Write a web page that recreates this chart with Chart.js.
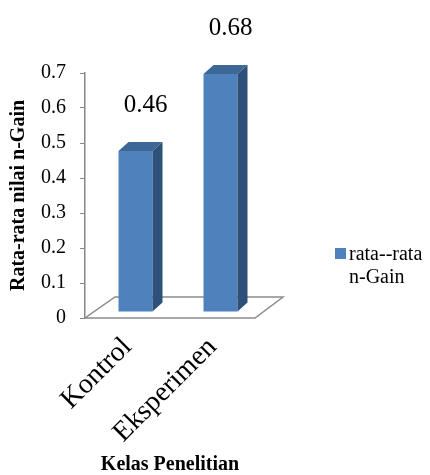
<!DOCTYPE html>
<html lang="id">
<head>
  <meta charset="UTF-8">
  <title>Rata-rata nilai n-Gain</title>
  <script src="https://cdn.jsdelivr.net/npm/chart.js"></script>
  <style>
    html, body { margin: 0; padding: 0; background: #fff; }
  </style>
</head>
<body>
  <canvas id="gainChart" width="430" height="475"></canvas>
  <script>
    // data
    const categories = ['Kontrol', 'Eksperimen'];
    const gainValues = [0.46, 0.68];
    const yTickLabels = ['0', '0.1', '0.2', '0.3', '0.4', '0.5', '0.6', '0.7'];
    const legendLines = ['rata--rata', 'n-Gain'];

    const serif = '"Liberation Serif", "Times New Roman", serif';
    const frontColor = '#4f81bd';
    const topColor = '#3d6796';
    const sideColor = '#2f5179';
    const depth = { x: 10, y: -9 };  // thickness of each bar
    const shift = { x: 8, y: -6 };   // bars stand a bit back on the floor

    function poly(ctx, pts, fill) {
      ctx.beginPath();
      ctx.moveTo(pts[0][0], pts[0][1]);
      for (let i = 1; i < pts.length; i++) ctx.lineTo(pts[i][0], pts[i][1]);
      ctx.closePath();
      ctx.fillStyle = fill;
      ctx.fill();
    }

    // floor + fake 3d faces for the bars
    const boxPlugin = {
      id: 'box3d',
      beforeDatasetsDraw(chart) {
        const { ctx, chartArea: a } = chart;
        ctx.save();
        ctx.beginPath();
        ctx.moveTo(a.left, a.bottom);
        ctx.lineTo(a.right, a.bottom);
        ctx.lineTo(a.right + 28, a.bottom - 21);
        ctx.lineTo(a.left + 30, a.bottom - 21);
        ctx.closePath();
        ctx.fillStyle = '#fff';
        ctx.fill();
        ctx.strokeStyle = '#8c8c8c';
        ctx.lineWidth = 1.5;
        ctx.stroke();
        ctx.restore();

        ctx.save();
        ctx.translate(shift.x, shift.y);
      },
      afterDatasetsDraw(chart) {
        const ctx = chart.ctx;
        chart.getDatasetMeta(0).data.forEach((bar, i) => {
          const l = bar.x - bar.width / 2;
          const r = bar.x + bar.width / 2;
          const t = bar.y;
          const b = bar.base;
          poly(ctx, [[l, t], [r, t], [r + depth.x, t + depth.y], [l + depth.x, t + depth.y]], topColor);
          poly(ctx, [[r, t], [r + depth.x, t + depth.y], [r + depth.x, b + depth.y], [r, b]], sideColor);

          ctx.fillStyle = '#000';
          ctx.font = '25px ' + serif;
          ctx.textAlign = 'center';
          ctx.textBaseline = 'middle';
          ctx.fillText(gainValues[i].toFixed(2), bar.x + 10, t - 46);
        });
        ctx.restore();
      },
      afterDraw(chart) {
        const { ctx, chartArea: a } = chart;
        const lx = a.right + 80;
        const ly = a.bottom - 70;
        ctx.save();
        ctx.fillStyle = frontColor;
        ctx.fillRect(lx, ly, 11, 11);
        ctx.fillStyle = '#000';
        ctx.font = '20px ' + serif;
        ctx.textAlign = 'left';
        ctx.textBaseline = 'alphabetic';
        legendLines.forEach((line, i) => ctx.fillText(line, lx + 14, ly + 12 + i * 23));
        ctx.restore();
      }
    };

    new Chart(document.getElementById('gainChart'), {
      type: 'bar',
      data: {
        labels: categories,
        datasets: [{
          label: legendLines.join(' '),
          data: gainValues,
          backgroundColor: frontColor,
          borderWidth: 0,
          barPercentage: 0.4,
          categoryPercentage: 1
        }]
      },
      options: {
        responsive: false,
        animation: false,
        layout: { padding: { top: 73, right: 175, left: 0, bottom: 0 } },
        plugins: {
          legend: { display: false },
          tooltip: { enabled: false }
        },
        scales: {
          x: {
            grid: { display: false, drawTicks: false },
            border: { display: false },
            ticks: {
              minRotation: 45,
              maxRotation: 45,
              padding: 13,
              color: '#000',
              font: { family: serif, size: 28 }
            },
            title: {
              display: true,
              text: 'Kelas Penelitian',
              color: '#000',
              font: { family: serif, size: 20, weight: 'bold', lineHeight: 1 },
              padding: { top: -1, bottom: 0 }
            },
            afterFit(scale) { scale.height = 157; }
          },
          y: {
            min: 0,
            max: 0.7,
            ticks: {
              stepSize: 0.1,
              padding: 14,
              color: '#000',
              font: { family: serif, size: 20 },
              callback: (v, i) => yTickLabels[i]
            },
            grid: { drawOnChartArea: false, tickLength: 5, color: '#868686' },
            border: { color: '#868686', width: 1.5 },
            title: {
              display: true,
              text: 'Rata-rata nilai n-Gain',
              color: '#000',
              font: { family: serif, size: 20, weight: 'bold' },
              padding: 7
            },
            afterFit(scale) { scale.width = 85; }
          }
        }
      },
      plugins: [boxPlugin]
    });
  </script>
</body>
</html>
